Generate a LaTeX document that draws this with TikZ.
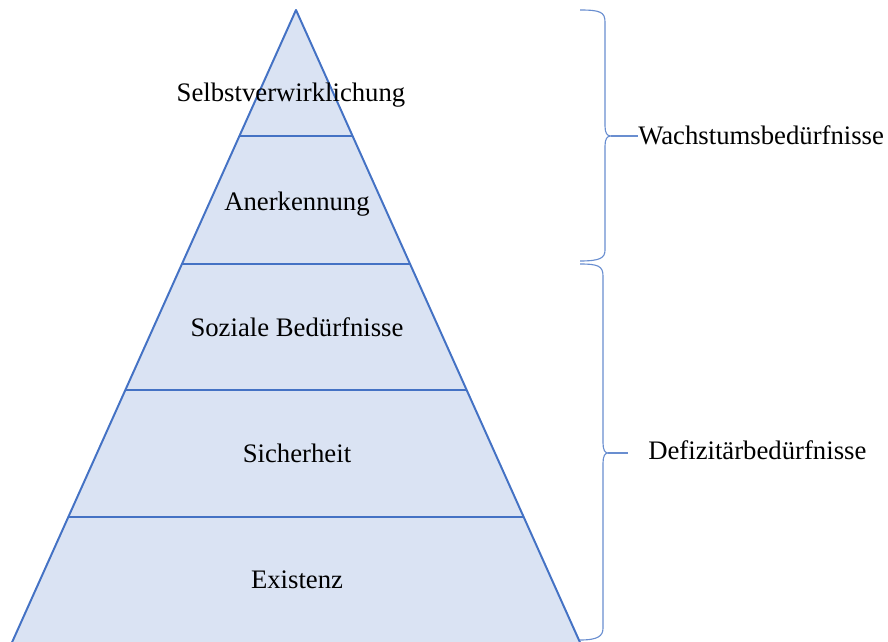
\documentclass[tikz,border=0pt]{standalone}
\usepackage{fontspec}
\setmainfont{Liberation Serif}
\definecolor{pyrline}{HTML}{4472C4}
\definecolor{pyrfill}{HTML}{DAE3F3}
\tikzset{
  level/.style={font=\fontsize{19}{23}\selectfont, inner sep=0pt},
  group/.style={font=\fontsize{19}{23}\selectfont, inner sep=0pt, anchor=west},
  pyr/.style={draw=pyrline, line width=1.4pt},
  curly/.style={draw=pyrline!80, line width=0.8pt},
}
\begin{document}
\begin{tikzpicture}[x=0.025cm, y=-0.025cm]
        \useasboundingbox (0,0) rectangle (888,642);

        % pyramid (base runs past the lower edge)
        \begin{scope}
        \clip (0,0) rectangle (888,642);
        \filldraw[pyr, fill=pyrfill, line join=round] (296,10) -- (587,658) -- (5,658) -- cycle;
        \end{scope}
        \draw[pyr] (240,136) -- (353,136);
        \draw[pyr] (182,264) -- (410,264);
        \draw[pyr] (125,390) -- (467,390);
        \draw[pyr] (68,517) -- (524,517);

        % levels
        \node[level] at (291,95) (self) {Selbstverwirklichung};
        \node[level] at (297,204) (esteem) {Anerkennung};
        \node[level] at (297,327) (social) {Soziale Bedürfnisse};
        \node[level] at (297,453) (safety) {Sicherheit};
        \node[level] at (297,580) (existence) {Existenz};

        % braces
        \draw[curly] (580,10) .. controls (600,10) and (605,12) .. (605,22) -- (605,126)
            .. controls (605,133) and (607,136) .. (611,136)
            .. controls (607,136) and (605,139) .. (605,146) -- (605,250)
            .. controls (605,258) and (600,261) .. (580,261);
        \coordinate (growth tip) at (611,136);

        \draw[curly] (580,264) .. controls (598,264) and (603,266) .. (603,276) -- (603,443)
            .. controls (603,450) and (605,453) .. (608,453)
            .. controls (605,453) and (603,456) .. (603,463) -- (603,628)
            .. controls (603,636) and (598,640) .. (580,640);
        \coordinate (deficit tip) at (608,453);

        % groups
        \node[group] at (638,135) (growth) {Wachstumsbedürfnisse};
        \node[group] at (648,450) (deficit) {Defizitärbedürfnisse};
        \coordinate (deficit end) at (628,453);

        % links
        \draw[curly] (growth tip) -- (growth tip-|growth.west);
        \draw[curly] (deficit tip) -- (deficit end);
    \end{tikzpicture}
\end{document}
